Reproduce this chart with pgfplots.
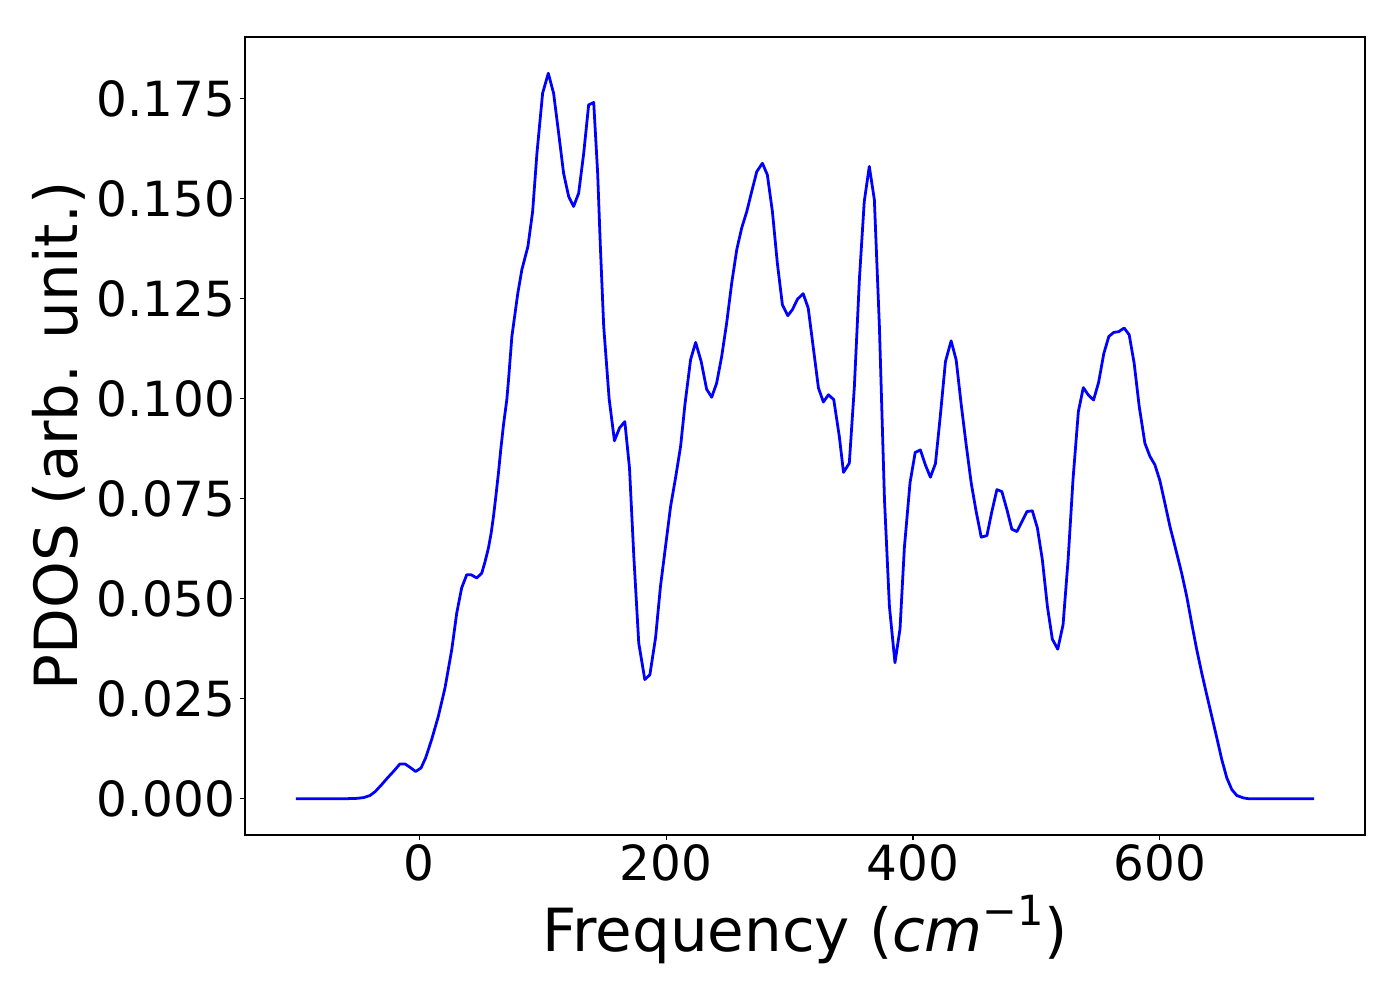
\documentclass[border=0pt]{standalone}
\usepackage{fontspec}
\setmainfont{DejaVu Sans}
\usepackage{pgfplots}
\pgfplotsset{compat=1.18}
\begin{document}
\begin{tikzpicture}
\begin{axis}[
  at={(0,0)}, anchor=south west,
  scale only axis, width=806.4bp, height=574.56bp,
  xmin=-141.25, xmax=766.25, ymin=-0.00907, ymax=0.19047,
  xtick={0,200,400,600},
  ytick={0,0.025,0.05,0.075,0.1,0.125,0.15,0.175},
  scaled y ticks=false,
  /pgf/number format/assume math mode=true,
  yticklabel={\pgfmathprintnumber[fixed,fixed zerofill,precision=3]{\tick}},
  tick label style={font=\fontsize{35}{40}\selectfont},
  label style={font=\fontsize{43}{50}\selectfont},
  tick align=outside, tick pos=left,
  major tick length=3.5bp,
  every tick/.style={black, line width=0.8bp},
  axis line style={line width=0.8bp},
  xlabel={Frequency (\textit{cm}\raisebox{0.45em}{\fontsize{30}{30}\selectfont −1})},
  ylabel={PDOS (arb. unit.)},
  xlabel style={at={(axis description cs:0.5,-0.1466)}, anchor=base},
  ylabel style={at={(axis description cs:-0.150,0.5)}, anchor=base},
]
\addplot[color={rgb,1:red,0;green,0;blue,1}, line width=2bp, line join=round, mark=none] coordinates {
(-100,0) (-60,0) (-50,0.0001) (-45,0.0003) (-40,0.0008) (-35.7,0.0018)
(-30.6,0.0035) (-25.8,0.0052) (-21,0.0068) (-15.7,0.0087) (-11.6,0.0087)
(-7.3,0.0078) (-3,0.0068) (1.4,0.0077) (5.1,0.0102) (10,0.0148)
(15.4,0.0206) (20.8,0.0277) (26.3,0.0373) (30.3,0.0464) (34.3,0.0527)
(38.4,0.0560) (42,0.0560) (46.5,0.0552) (50.6,0.0564) (53.3,0.0593)
(56,0.0627) (58.2,0.0664) (60.1,0.0706) (62,0.0756) (64.1,0.0814)
(66,0.0873) (68.2,0.0935) (70.9,0.0998) (72.3,0.1048) (75,0.1156)
(79.8,0.1264) (83.1,0.1323) (88,0.1381) (91.8,0.1468) (95.3,0.1614)
(99.9,0.1764) (104.5,0.1814) (108.8,0.1764) (112.9,0.1664) (116.9,0.1564)
(121,0.1506) (125,0.1481) (129.1,0.1514) (133.2,0.1614) (137.2,0.1735)
(141.3,0.1741) (144.5,0.1564) (146.7,0.1381) (149.4,0.1181) (153.8,0.1000)
(158.1,0.0895) (162.2,0.0927) (166.5,0.0943) (170.3,0.0827) (173.8,0.0606)
(177.8,0.0389) (182.7,0.0298) (186.8,0.0310) (191.4,0.0402) (195.4,0.0531)
(199.5,0.0631) (203.6,0.0731) (207.6,0.0802) (211.7,0.0881) (215.2,0.0985)
(219.8,0.1098) (223.9,0.1141) (228.4,0.1093) (232.8,0.1024) (236.9,0.1004)
(240.9,0.1039) (245,0.1106) (249,0.1189) (253.1,0.1289) (257.2,0.1373)
(261.2,0.1427) (265.3,0.1468) (269.3,0.1518) (273.4,0.1568) (278,0.1589)
(282,0.1560) (286.1,0.1468) (290.1,0.1339) (294.2,0.1235) (298.6,0.1208)
(302.3,0.1223) (306.4,0.1249) (311,0.1263) (315.1,0.1227) (319.1,0.1131)
(323.4,0.1027) (327.4,0.0992) (331.5,0.1010) (335.8,0.0998) (340.3,0.0906)
(343.7,0.0816) (348.4,0.0839) (352.5,0.1030) (356.6,0.1300) (360.5,0.1493)
(364.6,0.1581) (368.7,0.1498) (372.8,0.1180) (376.9,0.0748) (380.9,0.0481)
(385.4,0.0340) (389.5,0.0425) (393,0.0627) (397.6,0.0790) (401.8,0.0866)
(406,0.0872) (410,0.0835) (414.1,0.0804) (418.2,0.0838) (422.1,0.0956)
(426.3,0.1093) (430.9,0.1145) (435,0.1097) (439.1,0.0985) (443.1,0.0885)
(447.2,0.0789) (451.2,0.0718) (455.3,0.0654) (459.9,0.0658) (463.9,0.0718)
(468,0.0773) (472,0.0768) (476.1,0.0723) (480.1,0.0674) (484.2,0.0668)
(488.3,0.0693) (492.3,0.0718) (496.7,0.0720) (500.8,0.0677) (504.8,0.0598)
(508.9,0.0481) (512.9,0.0399) (517.3,0.0374) (521.6,0.0435) (525.7,0.0598)
(529.7,0.0800) (534,0.0968) (538,0.1028) (542.2,0.1009) (546.3,0.0997)
(550.4,0.1041) (554.6,0.1113) (558.7,0.1156) (562.7,0.1166) (566.8,0.1168)
(571.1,0.1177) (575.2,0.1160) (579.2,0.1089) (583.3,0.0981) (587.9,0.0889)
(592,0.0856) (596,0.0835) (600.1,0.0795) (604.1,0.0739) (608.2,0.0681)
(612.3,0.0631) (617.7,0.0564) (621.8,0.0506) (625.8,0.0439) (629.9,0.0373)
(634,0.0314) (638,0.0260) (642.1,0.0206) (646.2,0.0152) (650.2,0.0098)
(654.3,0.0052) (658.3,0.0023) (662.4,0.0008) (667.8,0.0002) (672,0) (725,0)
};
\end{axis}
\pgfresetboundingbox
\path[use as bounding box] (-176.4bp,-118.8bp) rectangle (831.6bp,601.2bp);
\end{tikzpicture}
\end{document}
